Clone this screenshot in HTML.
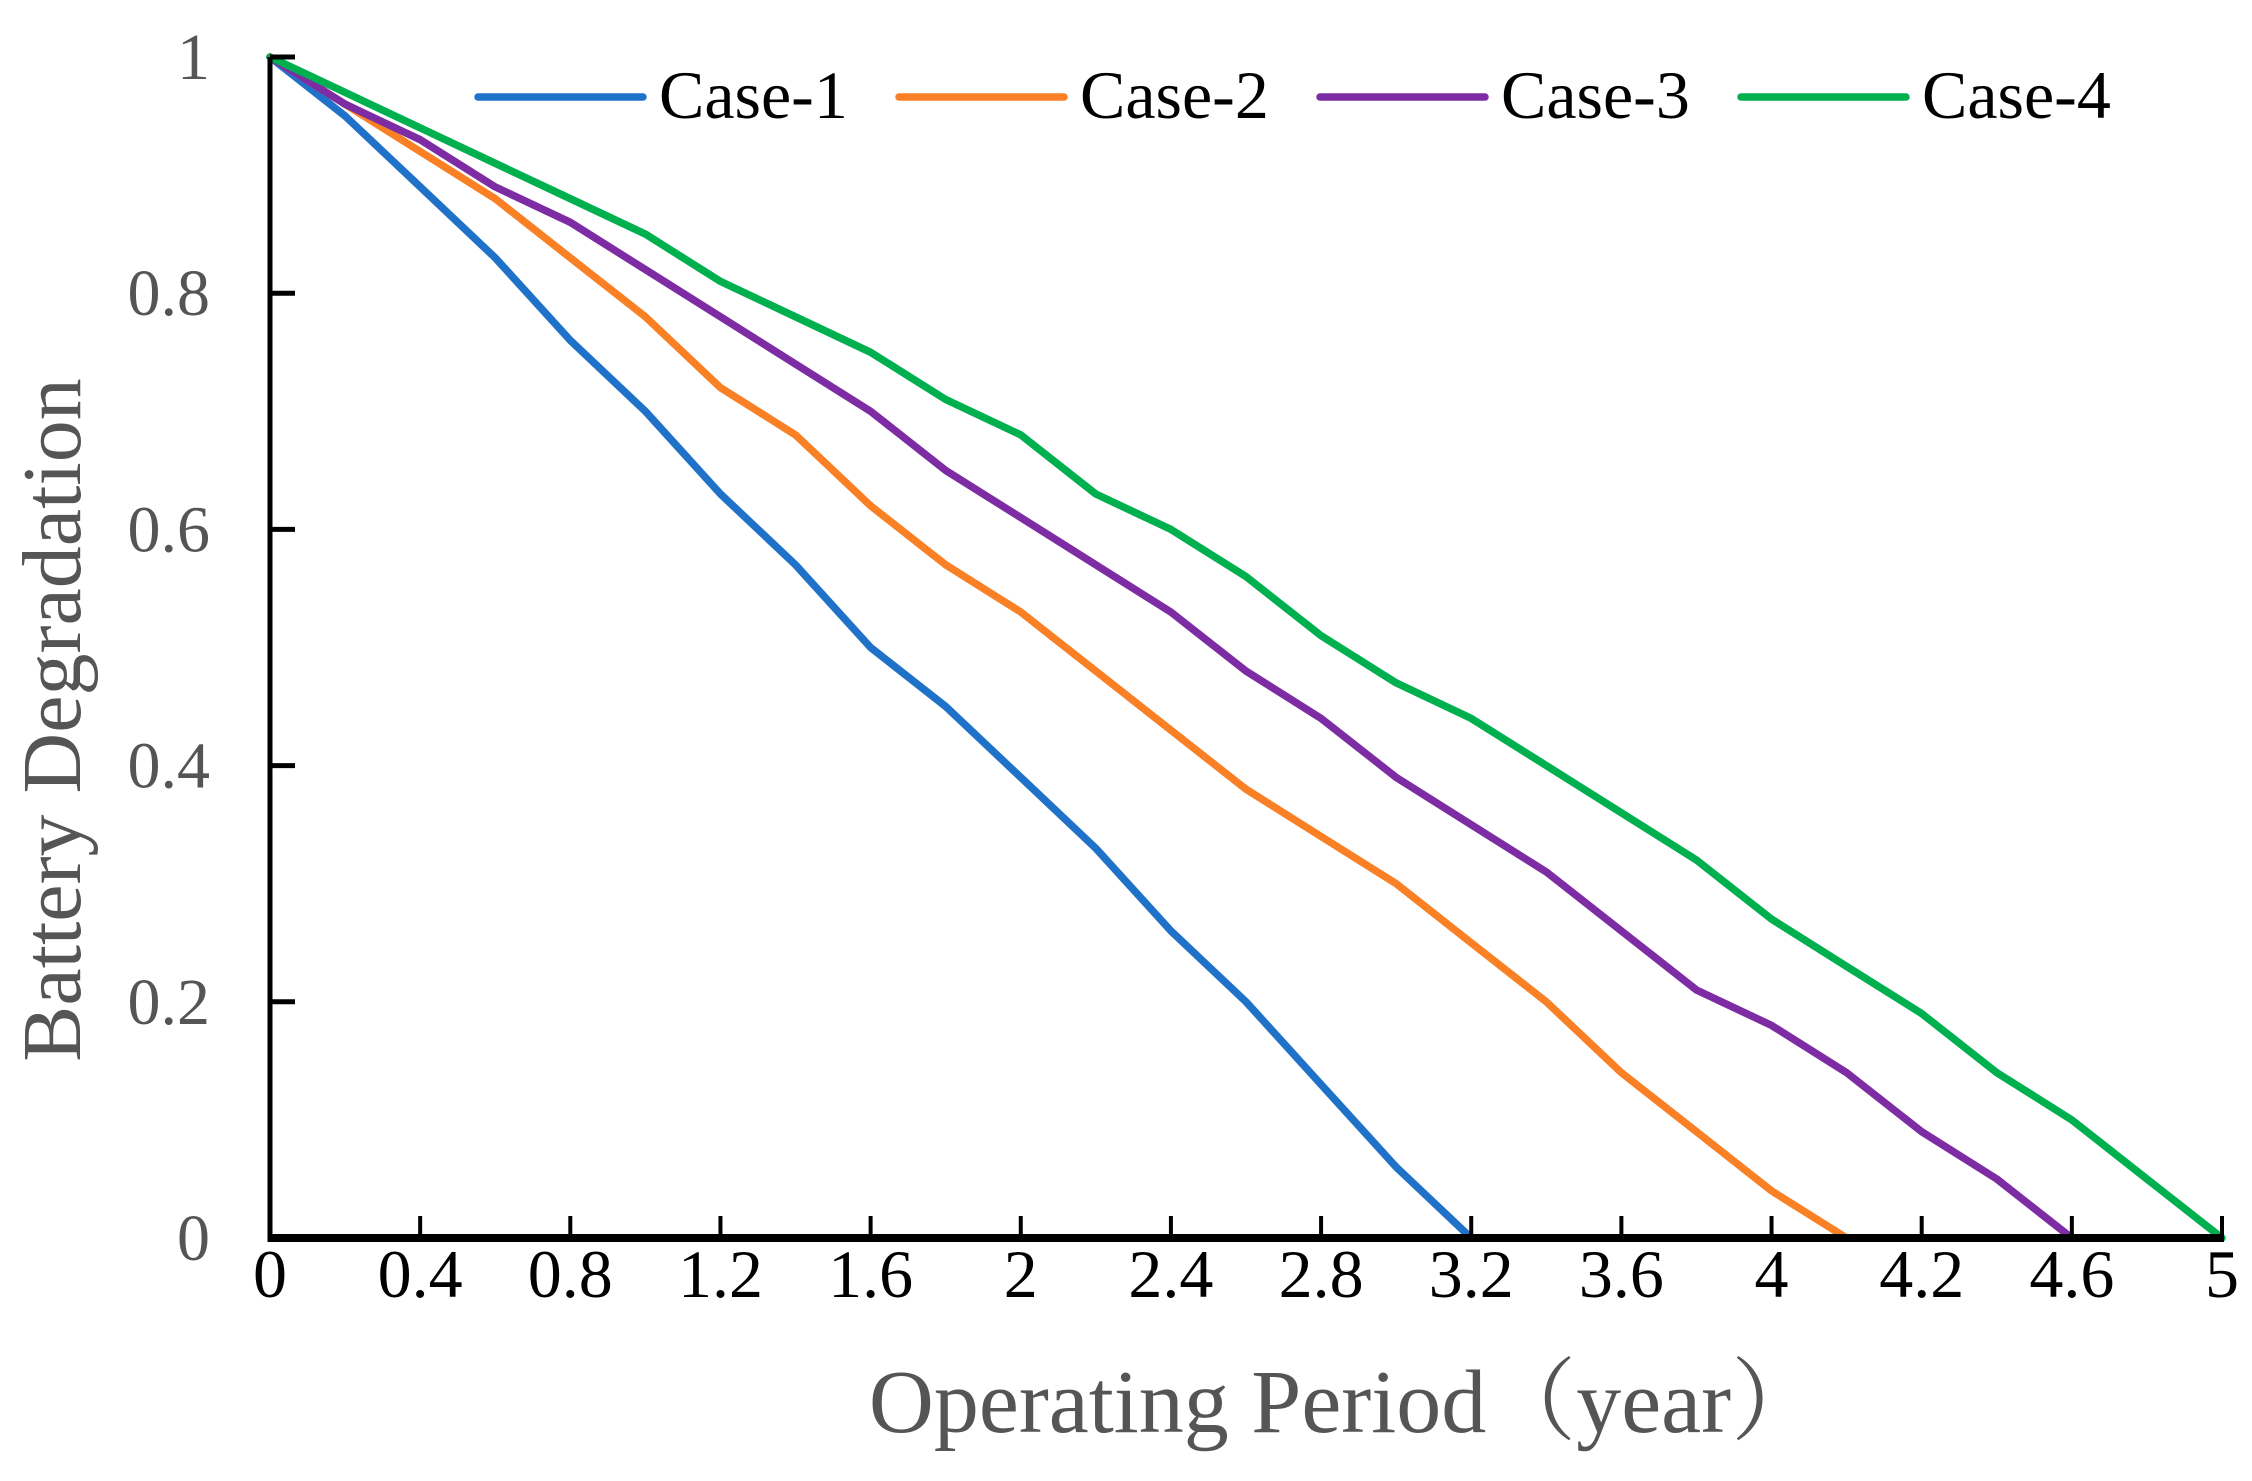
<!DOCTYPE html>
<html><head><meta charset="utf-8"><style>
html,body{margin:0;padding:0;background:#fff;}
svg{display:block;}
text{font-family:"Liberation Serif","Noto Serif CJK SC",serif;}
</style></head><body>
<svg id="chart" width="2252" height="1481" viewBox="0 0 2252 1481" xmlns="http://www.w3.org/2000/svg" font-family="Liberation Serif, Noto Serif CJK SC, serif"></svg>
<script>
const xTickLabels = ["0","0.4","0.8","1.2","1.6","2","2.4","2.8","3.2","3.6","4","4.2","4.6","5"];
const yTickValues = [0,0.2,0.4,0.6,0.8,1];
const yTickLabels = ["0","0.2","0.4","0.6","0.8","1"];
const seriesNames = ["Case-1","Case-2","Case-3","Case-4"];
const case1 = [1,0.95,0.89,0.83,0.76,0.70,0.63,0.57,0.50,0.45,0.39,0.33,0.26,0.20,0.13,0.06,0];
const case2 = [1,0.96,0.92,0.88,0.83,0.78,0.72,0.68,0.62,0.57,0.53,0.48,0.43,0.38,0.34,0.30,0.25,0.20,0.14,0.09,0.04,0];
const case3 = [1,0.96,0.93,0.89,0.86,0.82,0.78,0.74,0.70,0.65,0.61,0.57,0.53,0.48,0.44,0.39,0.35,0.31,0.26,0.21,0.18,0.14,0.09,0.05,0];
const case4 = [1,0.97,0.94,0.91,0.88,0.85,0.81,0.78,0.75,0.71,0.68,0.63,0.60,0.56,0.51,0.47,0.44,0.40,0.36,0.32,0.27,0.23,0.19,0.14,0.10,0.05,0];

const colors = ["#1f72c8","#f98024","#7d2ca3","#00b04f"];
const NS = "http://www.w3.org/2000/svg";
const svg = document.getElementById("chart");
const X0 = 270, X1 = 2222, Y0 = 1238, Y1 = 57;
const nT = xTickLabels.length - 1;
function xTick(i){ return X0 + (X1 - X0) * i / nT; }
function xPoint(k){ return xTick(k / 2); }
function yPos(v){ return Y0 - (Y0 - Y1) * v; }
function mk(tag, attrs, parent){
  const e = document.createElementNS(NS, tag);
  for (const k in attrs) e.setAttribute(k, attrs[k]);
  (parent || svg).appendChild(e);
  return e;
}

const allSeries = [case1, case2, case3, case4];
allSeries.forEach((s, si) => {
  const d = s.map((v, k) => (k ? "L" : "M") + xPoint(k).toFixed(1) + " " + yPos(v).toFixed(1)).join(" ");
  const p = mk("path", {d: d, fill: "none", stroke: colors[si], "stroke-width": 7.5, "stroke-linejoin": "round", "stroke-linecap": "round"});
  
  
});

const yAxis = mk("line", {x1: X0, y1: Y1, x2: X0, y2: Y0 + 4, stroke: "#000", "stroke-width": 5});


const xAxis = mk("line", {x1: X0 - 2, y1: Y0, x2: X1 + 2, y2: Y0, stroke: "#000", "stroke-width": 8});



xTickLabels.forEach((lab, i) => {
  const x = xTick(i);
  const t = mk("line", {x1: x, y1: Y0, x2: x, y2: Y0 - 22, stroke: "#000", "stroke-width": 4});
  
  
  const tx = mk("text", {x: x, y: 1297, "text-anchor": "middle", "font-size": 68, fill: "#000"});
  tx.textContent = lab;
  
  
});

yTickValues.forEach((v, i) => {
  const y = yPos(v);
  if (v > 0) {
    const t = mk("line", {x1: X0, y1: y, x2: X0 + 25, y2: y, stroke: "#000", "stroke-width": 5});
    
    
  }
  const tx = mk("text", {x: 210, y: y + 22, "text-anchor": "end", "font-size": 66, fill: "#555"});
  tx.textContent = yTickLabels[i];
  
  
});

const xt = mk("text", {x: 1345, y: 1432, "text-anchor": "middle", "font-size": 90, fill: "#555"});
xt.textContent = "Operating Period（year）";


const yt = mk("text", {x: 0, y: 0, "text-anchor": "middle", "font-size": 84, fill: "#555", transform: "translate(80 720) rotate(-90)"});
yt.textContent = "Battery Degradation";



seriesNames.forEach((n, i) => {
  const lx = 478 + i * 421;
  const g = mk("g", {});
  
  
  mk("line", {x1: lx, y1: 97, x2: lx + 165, y2: 97, stroke: colors[i], "stroke-width": 7.5, "stroke-linecap": "round"}, g);
  const t = mk("text", {x: lx + 181, y: 118, "font-size": 68, fill: "#000", "font-family": "Liberation Serif, serif"}, g);
  t.textContent = n;
});
</script>
</body></html>
